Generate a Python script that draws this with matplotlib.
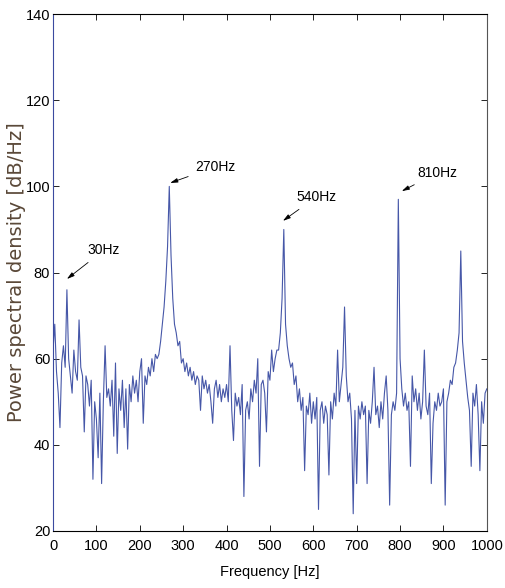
import numpy as np
import matplotlib
matplotlib.use("Agg")
import matplotlib.pyplot as plt

# frequency grid (Hz), 4 Hz step
freq = np.arange(0, 1001, 4)

# power spectral density (dB/Hz), 100 Hz per row
psd = [
    62, 68, 57, 52, 44, 59, 63, 58, 76, 60, 56, 52, 62, 57, 55, 69, 58, 56, 43, 56, 54, 49, 55, 32, 50,
    46, 37, 52, 31, 50, 63, 51, 53, 49, 55, 42, 59, 38, 53, 48, 55, 44, 53, 39, 54, 50, 56, 52, 55, 50,
    57, 60, 45, 56, 54, 58, 56, 60, 57, 61, 60, 61, 64, 68, 72, 78, 86, 100, 84, 74, 68, 66, 63, 64, 59,
    60, 57, 59, 56, 58, 55, 57, 54, 56, 55, 48, 56, 53, 55, 52, 54, 50, 45, 53, 55, 51, 54, 50, 53, 51,
    54, 50, 63, 48, 41, 52, 49, 51, 47, 54, 28, 48, 50, 46, 53, 50, 55, 52, 60, 35, 54, 55, 52, 43, 57,
    55, 62, 57, 60, 62, 62, 66, 74, 90, 68, 63, 60, 58, 59, 54, 56, 50, 53, 48, 51, 34, 49, 47, 52, 45,
    50, 46, 51, 25, 48, 50, 45, 49, 47, 33, 50, 46, 52, 49, 62, 50, 54, 58, 72, 56, 50, 52, 46, 24, 48,
    31, 49, 46, 50, 47, 49, 31, 48, 45, 50, 58, 47, 49, 44, 50, 46, 52, 56, 48, 26, 47, 50, 48, 52, 97,
    60, 53, 49, 52, 48, 50, 35, 56, 50, 53, 48, 52, 46, 50, 62, 49, 47, 52, 31, 45, 50, 48, 52, 49, 50,
    53, 26, 50, 52, 55, 54, 58, 59, 62, 66, 85, 64, 59, 55, 51, 48, 35, 52, 49, 54, 47, 34, 50, 45, 52, 53,
]

# annotations: label, peak position, text position
ann_labels = ["30Hz", "270Hz", "540Hz", "810Hz"]
ann_peak = [(32, 78.5), (270, 100.8), (530, 92.0), (804, 98.9)]
ann_text = [(80, 85.2), (327, 104.5), (560, 97.5), (839, 103.1)]

arial = ["Liberation Sans", "DejaVu Sans"]

fig = plt.figure(figsize=(5.05, 5.88), dpi=100)
ax = fig.add_axes([0.105, 0.097, 0.859, 0.879])

ax.plot(freq, psd, color="#4657a8", linewidth=0.8)

for lab, (px, py), (tx, ty) in zip(ann_labels, ann_peak, ann_text):
    ax.annotate(lab, xy=(px, py), xytext=(tx, ty), fontsize=10, family=arial,
                va="center", ha="left",
                arrowprops=dict(arrowstyle="-|>,head_length=0.45,head_width=0.13",
                                color="black", lw=0.6, shrinkA=3, shrinkB=0))

ax.set_xlim(0, 1000)
ax.set_ylim(20, 140)
ax.set_xticks(np.arange(0, 1001, 100))
ax.set_yticks(np.arange(20, 141, 20))
ax.tick_params(direction="in", length=4, width=0.6, top=True, right=True,
               labelsize=10.5)
ax.tick_params(axis="x", pad=6)
ax.tick_params(axis="y", pad=2)
for t in ax.get_xticklabels() + ax.get_yticklabels():
    t.set_family(arial)

ax.spines["left"].set_color("#3b4aa0")
for s in ["bottom", "top"]:
    ax.spines[s].set_color("black")
ax.spines["right"].set_color("#555555")
for s in ax.spines.values():
    s.set_linewidth(0.8)

ax.set_xlabel("Frequency [Hz]", fontsize=10.5, family=arial)
ax.xaxis.set_label_coords(0.5, -0.066)
ax.set_ylabel("Power spectral density [dB/Hz]", fontsize=14, color="#5a4838")
ax.yaxis.set_label_coords(-0.062, 0.5)

fig.savefig("out.png", dpi=100)
